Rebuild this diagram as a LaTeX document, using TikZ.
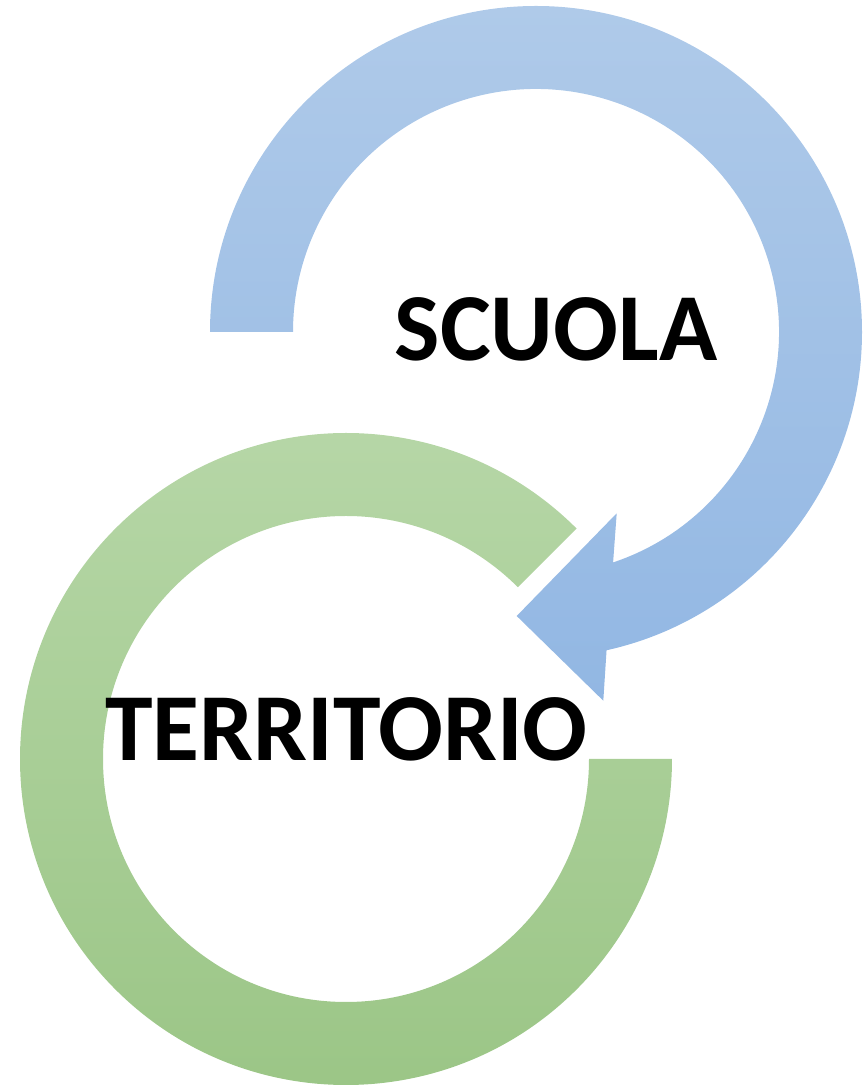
\documentclass[tikz,border=0pt]{standalone}
\usepackage{fontspec}
\setmainfont{Carlito}
\begin{document}
\begin{tikzpicture}[x=1pt,y=1pt,
  bigtext/.style={inner sep=0pt, anchor=base, font=\fontsize{96}{100}\selectfont\bfseries, text=black}]
\definecolor{bluetop}{HTML}{AFCAE9}
\definecolor{bluebot}{HTML}{92B7E3}
\definecolor{greentop}{HTML}{B7D7A8}
\definecolor{greenbot}{HTML}{9AC585}
\useasboundingbox (0,0) rectangle (867,1085);
% green ring (centre 346,326)
\coordinate (gc) at (346,326);
\shade[top color=greentop, bottom color=greenbot]
  ([shift={(45:326)}]gc) arc[start angle=45, end angle=360, radius=326]
  -- ([shift={(0:243)}]gc) arc[start angle=360, end angle=45, radius=243] -- cycle;
% blue circular arrow (centre 536,753)
\coordinate (bc) at (536,753);
\coordinate (wingb) at (603.3,384.3);
\coordinate (tip) at (516.7,469);
\coordinate (wingt) at (616.7,571.7);
\shade[top color=bluetop, bottom color=bluebot]
  ([shift={(180:326)}]bc) arc[start angle=180, end angle=-77.5, radius=326]
  -- (wingb) -- (tip) -- (wingt)
  -- ([shift={(-71.5:243)}]bc) arc[start angle=-71.5, end angle=180, radius=243] -- cycle;
\node[bigtext] (scuola) at (556,724.5) {SCUOLA};
\node[bigtext] (territorio) at (346.5,324) {TERRITORIO};
\end{tikzpicture}
\end{document}
